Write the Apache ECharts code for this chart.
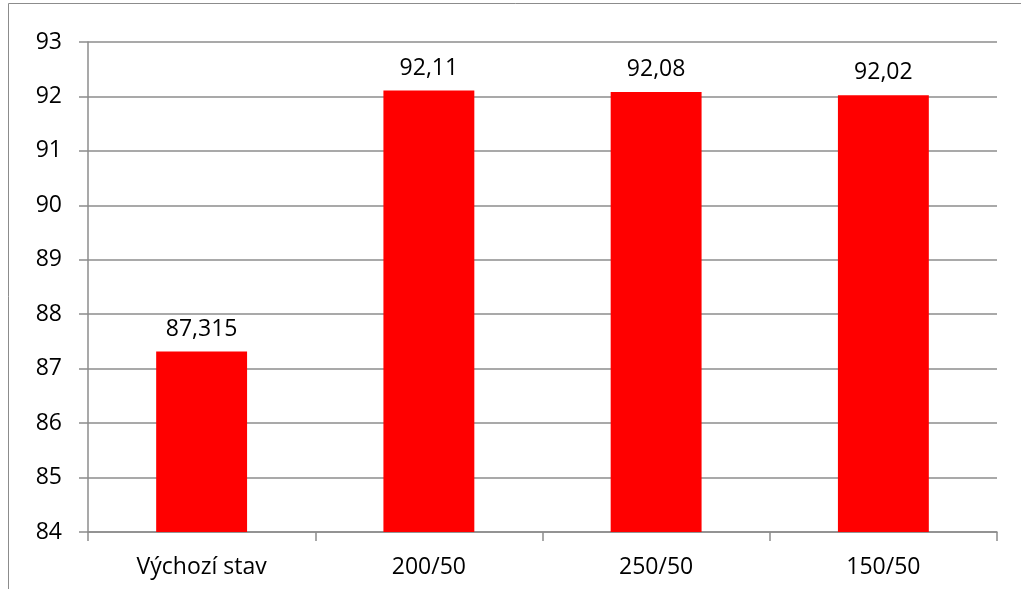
<!DOCTYPE html>
<html>
<head>
<meta charset="utf-8">
<script src="https://cdn.jsdelivr.net/npm/echarts@6/dist/echarts.min.js"></script>
<style>
  html, body { margin: 0; padding: 0; background: #fff; }
  #chart { width: 1021px; height: 589px; }
</style>
</head>
<body>
<div id="chart"></div>
<script>
// Categories and values
const categories = ['Výchozí stav', '200/50', '250/50', '150/50'];
const values = [87.315, 92.11, 92.08, 92.02];
const valueLabels = ['87,315', '92,11', '92,08', '92,02'];
const yMin = 84;
const yMax = 93;

const chart = echarts.init(document.getElementById('chart'));
const fontFamily = '"Open Sans", "Liberation Sans", sans-serif';
const fontSize = 23;

chart.setOption({
  animation: false,
  backgroundColor: '#fff',
  grid: { left: 88, right: 24, top: 42, bottom: 57, containLabel: false },
  graphic: [{
    type: 'rect',
    shape: { x: 8.5, y: 3.5, width: 1100, height: 1000 },
    style: { fill: 'none', stroke: '#8c8c8c', lineWidth: 1 },
    silent: true
  }],
  xAxis: {
    type: 'category',
    data: categories,
    axisLine: { lineStyle: { color: '#8c8c8c', width: 1.5 } },
    axisTick: { show: true, length: 9, alignWithLabel: false, lineStyle: { color: '#8c8c8c', width: 1.5 } },
    axisLabel: { color: '#000', fontSize, fontFamily, margin: 24 }
  },
  yAxis: {
    type: 'value',
    min: yMin,
    max: yMax,
    interval: 1,
    axisLine: { show: true, lineStyle: { color: '#8c8c8c', width: 1.5 } },
    axisTick: { show: true, inside: false, length: 9, lineStyle: { color: '#8c8c8c', width: 1.5 } },
    splitLine: { show: true, lineStyle: { color: '#8c8c8c', width: 1.5 } },
    axisLabel: { color: '#000', fontSize, fontFamily, margin: 26 }
  },
  series: [{
    type: 'bar',
    data: values,
    barWidth: '40%',
    itemStyle: { color: '#ff0000' },
    label: {
      show: true,
      position: 'top',
      distance: 11,
      color: '#000',
      fontSize,
      fontFamily,
      formatter: p => valueLabels[p.dataIndex]
    }
  }]
});
</script>
</body>
</html>
